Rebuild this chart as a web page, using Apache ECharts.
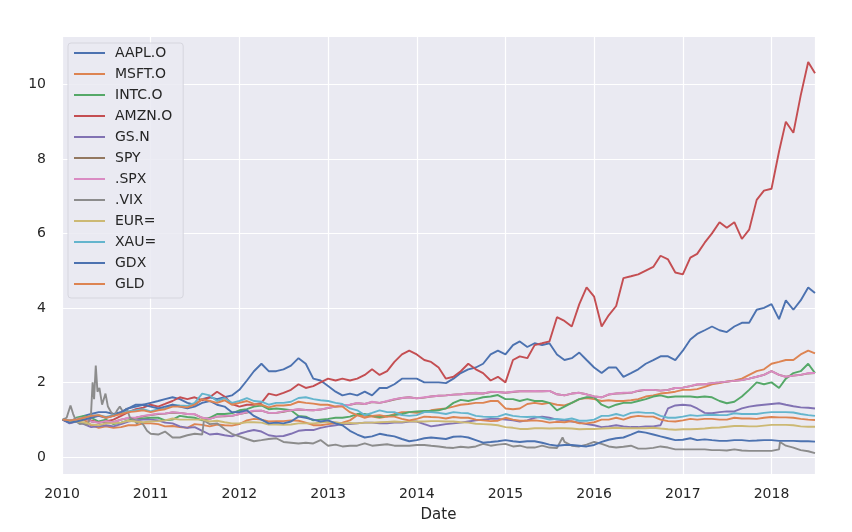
<!DOCTYPE html>
<html>
<head>
<meta charset="utf-8">
<script src="https://cdn.jsdelivr.net/npm/echarts@6/dist/echarts.min.js"></script>
<style>html,body{margin:0;padding:0;background:#fff}#c{width:852px;height:532px}</style>
</head>
<body>
<div id="c"></div>
<script>
const seriesNames = ['AAPL.O','MSFT.O','INTC.O','AMZN.O','GS.N','SPY','.SPX','.VIX','EUR=','XAU=','GDX','GLD'];
const colors = ['#4C72B0','#DD8452','#55A868','#C44E52','#8172B3','#937860','#DA8BC3','#8C8C8C','#CCB974','#64B5CD','#4C72B0','#DD8452'];
const yTicks = [0, 2, 4, 6, 8, 10];
const xTicks = [2010, 2011, 2012, 2013, 2014, 2015, 2016, 2017, 2018];

const dates = [
'2010-01-04','2010-02-01','2010-03-01','2010-04-01','2010-05-01','2010-06-01','2010-07-01','2010-08-01','2010-09-01','2010-10-01','2010-11-01','2010-12-01',
'2011-01-01','2011-02-01','2011-03-01','2011-04-01','2011-05-01','2011-06-01','2011-07-01','2011-08-01','2011-09-01','2011-10-01','2011-11-01','2011-12-01',
'2012-01-01','2012-02-01','2012-03-01','2012-04-01','2012-05-01','2012-06-01','2012-07-01','2012-08-01','2012-09-01','2012-10-01','2012-11-01','2012-12-01',
'2013-01-01','2013-02-01','2013-03-01','2013-04-01','2013-05-01','2013-06-01','2013-07-01','2013-08-01','2013-09-01','2013-10-01','2013-11-01','2013-12-01',
'2014-01-01','2014-02-01','2014-03-01','2014-04-01','2014-05-01','2014-06-01','2014-07-01','2014-08-01','2014-09-01','2014-10-01','2014-11-01','2014-12-01',
'2015-01-01','2015-02-01','2015-03-01','2015-04-01','2015-05-01','2015-06-01','2015-07-01','2015-08-01','2015-09-01','2015-10-01','2015-11-01','2015-12-01',
'2016-01-01','2016-02-01','2016-03-01','2016-04-01','2016-05-01','2016-06-01','2016-07-01','2016-08-01','2016-09-01','2016-10-01','2016-11-01','2016-12-01',
'2017-01-01','2017-02-01','2017-03-01','2017-04-01','2017-05-01','2017-06-01','2017-07-01','2017-08-01','2017-09-01','2017-10-01','2017-11-01','2017-12-01',
'2018-01-01','2018-02-01','2018-03-01','2018-04-01','2018-05-01','2018-06-01','2018-06-29'];

const aapl = [1.00,0.92,0.95,1.10,1.15,1.20,1.20,1.15,1.20,1.30,1.40,1.40,
1.45,1.50,1.55,1.60,1.55,1.45,1.40,1.55,1.60,1.55,1.60,1.65,
1.80,2.05,2.30,2.50,2.30,2.30,2.35,2.45,2.65,2.50,2.10,2.05,
1.90,1.75,1.65,1.70,1.65,1.75,1.65,1.85,1.85,1.95,2.10,2.10,
2.10,2.00,2.00,2.00,1.98,2.10,2.25,2.35,2.40,2.50,2.75,2.85,
2.75,3.00,3.10,2.95,3.05,3.00,3.05,2.75,2.60,2.65,2.80,2.60,
2.40,2.25,2.40,2.40,2.15,2.25,2.35,2.50,2.60,2.70,2.70,2.60,
2.85,3.15,3.30,3.40,3.50,3.40,3.35,3.50,3.60,3.60,3.95,4.00,
4.10,3.70,4.20,3.95,4.20,4.55,4.40];
const msft = [1.00,0.92,0.95,1.00,0.85,0.78,0.82,0.78,0.80,0.85,0.85,0.90,
0.90,0.88,0.82,0.83,0.80,0.78,0.88,0.86,0.82,0.87,0.85,0.84,
0.88,0.98,1.02,1.00,0.95,0.96,0.96,0.98,0.97,0.92,0.85,0.85,
0.88,0.90,0.92,0.98,1.12,1.10,1.08,1.05,1.08,1.15,1.20,1.20,
1.18,1.20,1.25,1.28,1.30,1.35,1.40,1.42,1.45,1.45,1.50,1.50,
1.30,1.28,1.30,1.42,1.45,1.42,1.45,1.40,1.38,1.45,1.55,1.58,
1.55,1.50,1.52,1.50,1.50,1.52,1.55,1.62,1.65,1.70,1.72,1.75,
1.80,1.80,1.82,1.88,1.95,1.98,2.02,2.05,2.10,2.20,2.30,2.35,
2.50,2.55,2.60,2.60,2.75,2.85,2.78];
const intc = [1.00,0.93,1.05,1.10,1.05,0.95,1.00,0.88,0.92,0.98,1.03,1.03,
1.05,1.05,0.98,1.00,1.10,1.07,1.05,0.98,1.05,1.15,1.15,1.17,
1.25,1.28,1.35,1.38,1.28,1.30,1.28,1.25,1.10,1.08,0.98,1.00,
1.02,1.05,1.05,1.08,1.15,1.15,1.10,1.07,1.10,1.12,1.15,1.20,
1.22,1.23,1.23,1.25,1.30,1.45,1.53,1.50,1.55,1.60,1.62,1.66,
1.55,1.55,1.50,1.55,1.50,1.50,1.45,1.25,1.35,1.45,1.55,1.60,
1.60,1.40,1.32,1.40,1.45,1.45,1.50,1.55,1.62,1.65,1.60,1.62,
1.62,1.62,1.60,1.62,1.60,1.50,1.44,1.48,1.62,1.80,2.00,1.95,
2.00,1.85,2.10,2.25,2.30,2.50,2.25];
const amzn = [1.00,0.93,0.98,1.05,0.98,0.92,0.95,1.00,1.10,1.20,1.28,1.32,
1.40,1.35,1.42,1.50,1.60,1.55,1.60,1.52,1.60,1.75,1.62,1.42,
1.35,1.40,1.40,1.45,1.70,1.65,1.72,1.80,1.95,1.85,1.90,2.00,
2.10,2.05,2.10,2.05,2.10,2.20,2.35,2.20,2.30,2.55,2.75,2.85,
2.75,2.60,2.55,2.40,2.10,2.15,2.30,2.50,2.35,2.25,2.05,2.15,
2.00,2.60,2.70,2.65,3.00,3.05,3.10,3.75,3.65,3.50,4.10,4.55,
4.30,3.50,3.80,4.05,4.80,4.85,4.90,5.00,5.10,5.40,5.30,4.95,
4.90,5.35,5.45,5.75,6.00,6.30,6.15,6.30,5.85,6.10,6.90,7.15,
7.20,8.20,9.00,8.70,9.70,10.60,10.30];
const gs = [1.00,0.90,0.95,0.88,0.80,0.82,0.85,0.82,0.88,0.95,0.98,1.00,
1.00,0.98,0.92,0.90,0.82,0.78,0.80,0.70,0.60,0.62,0.58,0.55,
0.62,0.68,0.72,0.68,0.58,0.55,0.56,0.62,0.70,0.72,0.72,0.78,
0.82,0.85,0.88,0.88,0.90,0.92,0.92,0.90,0.90,0.92,0.92,0.95,
0.95,0.88,0.82,0.85,0.88,0.90,0.92,0.95,0.98,1.00,1.02,1.02,
1.00,0.98,0.95,0.98,1.05,1.08,1.05,1.00,0.98,0.95,0.92,0.88,
0.85,0.80,0.82,0.85,0.82,0.80,0.80,0.82,0.82,0.85,1.30,1.38,
1.40,1.38,1.30,1.18,1.17,1.20,1.22,1.22,1.30,1.35,1.38,1.40,
1.42,1.44,1.40,1.36,1.33,1.32,1.30];
const spy = [1.00,0.97,1.01,1.04,0.95,0.92,0.95,0.93,1.00,1.04,1.05,1.09,
1.12,1.15,1.16,1.19,1.18,1.15,1.14,1.05,1.02,1.08,1.09,1.10,
1.15,1.19,1.23,1.24,1.18,1.18,1.21,1.25,1.27,1.26,1.25,1.27,
1.31,1.35,1.38,1.40,1.44,1.42,1.47,1.45,1.49,1.54,1.58,1.60,
1.57,1.59,1.62,1.64,1.65,1.67,1.68,1.70,1.71,1.70,1.74,1.74,
1.72,1.74,1.76,1.76,1.77,1.76,1.77,1.68,1.65,1.70,1.72,1.68,
1.62,1.60,1.67,1.70,1.71,1.72,1.77,1.80,1.80,1.78,1.80,1.85,
1.86,1.90,1.94,1.95,1.98,2.00,2.02,2.04,2.06,2.10,2.15,2.20,
2.30,2.20,2.15,2.18,2.20,2.24,2.25];
const spx = [1.00,0.97,1.02,1.05,0.95,0.92,0.96,0.93,1.00,1.05,1.05,1.10,
1.13,1.16,1.16,1.20,1.18,1.15,1.15,1.05,1.02,1.08,1.10,1.10,
1.15,1.20,1.24,1.24,1.18,1.18,1.22,1.25,1.28,1.26,1.25,1.27,
1.32,1.35,1.38,1.40,1.45,1.42,1.48,1.45,1.50,1.55,1.58,1.60,
1.57,1.60,1.62,1.64,1.65,1.67,1.68,1.70,1.72,1.70,1.75,1.74,
1.72,1.75,1.76,1.76,1.77,1.76,1.77,1.68,1.65,1.70,1.72,1.68,
1.62,1.60,1.68,1.70,1.72,1.72,1.78,1.80,1.80,1.78,1.80,1.85,
1.86,1.90,1.95,1.95,1.98,2.00,2.02,2.04,2.06,2.10,2.15,2.20,
2.30,2.20,2.15,2.18,2.20,2.25,2.25];
const eur = [1.00,0.96,0.95,0.93,0.87,0.85,0.90,0.90,0.92,0.97,0.95,0.93,
0.95,0.96,0.98,1.03,1.00,1.00,1.00,1.00,0.95,0.97,0.93,0.90,
0.90,0.93,0.93,0.92,0.87,0.87,0.86,0.87,0.90,0.90,0.90,0.92,
0.94,0.93,0.90,0.91,0.90,0.92,0.92,0.93,0.94,0.95,0.94,0.96,
0.95,0.95,0.96,0.96,0.95,0.95,0.93,0.92,0.89,0.88,0.87,0.85,
0.80,0.78,0.75,0.75,0.77,0.77,0.76,0.77,0.77,0.76,0.74,0.75,
0.75,0.76,0.77,0.78,0.77,0.77,0.77,0.77,0.78,0.76,0.74,0.73,
0.74,0.74,0.75,0.76,0.78,0.79,0.81,0.83,0.83,0.82,0.82,0.84,
0.86,0.86,0.86,0.85,0.82,0.81,0.81];
const xau = [1.00,0.98,1.00,1.05,1.10,1.12,1.07,1.12,1.18,1.22,1.25,1.28,
1.22,1.28,1.30,1.40,1.38,1.37,1.45,1.70,1.65,1.50,1.58,1.45,
1.50,1.58,1.50,1.48,1.40,1.45,1.45,1.48,1.58,1.60,1.55,1.52,
1.50,1.45,1.42,1.30,1.25,1.12,1.18,1.25,1.20,1.20,1.12,1.10,
1.12,1.20,1.20,1.18,1.15,1.20,1.18,1.17,1.10,1.08,1.07,1.08,
1.15,1.10,1.08,1.07,1.08,1.05,1.00,1.02,1.00,1.03,0.97,0.97,
1.00,1.10,1.10,1.15,1.10,1.18,1.20,1.18,1.18,1.10,1.05,1.05,
1.08,1.12,1.10,1.12,1.13,1.12,1.12,1.17,1.15,1.15,1.15,1.18,
1.20,1.20,1.20,1.19,1.15,1.12,1.10];
const gdx = [1.00,0.92,0.95,1.00,1.05,1.10,1.05,1.10,1.20,1.30,1.35,1.40,
1.35,1.30,1.35,1.40,1.35,1.30,1.35,1.45,1.50,1.40,1.35,1.20,
1.20,1.25,1.10,1.00,0.90,0.92,0.90,0.95,1.08,1.05,1.00,0.95,
0.98,0.90,0.85,0.70,0.60,0.52,0.55,0.62,0.58,0.55,0.48,0.42,
0.45,0.50,0.52,0.50,0.48,0.54,0.55,0.52,0.45,0.38,0.40,0.42,
0.45,0.42,0.40,0.42,0.42,0.38,0.33,0.30,0.32,0.32,0.30,0.28,
0.32,0.40,0.46,0.50,0.52,0.60,0.68,0.65,0.60,0.55,0.50,0.45,
0.46,0.50,0.45,0.47,0.45,0.43,0.43,0.45,0.45,0.43,0.44,0.45,
0.45,0.43,0.43,0.43,0.42,0.42,0.41];
const gld = [1.00,0.98,1.00,1.05,1.10,1.12,1.05,1.10,1.15,1.20,1.22,1.25,
1.20,1.25,1.28,1.35,1.35,1.33,1.40,1.55,1.50,1.45,1.52,1.40,
1.45,1.50,1.42,1.40,1.33,1.38,1.38,1.40,1.48,1.45,1.43,1.40,
1.40,1.35,1.35,1.20,1.12,1.05,1.10,1.12,1.08,1.08,1.02,0.98,
1.02,1.08,1.07,1.06,1.03,1.07,1.05,1.05,1.00,0.98,0.96,0.97,
1.05,1.00,0.97,0.97,0.98,0.96,0.92,0.94,0.93,0.96,0.90,0.90,
0.93,1.00,1.00,1.05,1.00,1.07,1.10,1.08,1.08,1.00,0.96,0.95,
0.98,1.02,1.00,1.02,1.02,1.00,1.00,1.05,1.03,1.03,1.02,1.05,
1.07,1.06,1.06,1.05,1.02,1.00,0.99];

const vixDates = ['2010-01-04','2010-01-20','2010-02-05','2010-02-16','2010-03-01','2010-03-15','2010-04-01','2010-04-15','2010-04-30','2010-05-07','2010-05-13','2010-05-20','2010-05-27','2010-06-04','2010-06-15','2010-06-29','2010-07-09','2010-07-22','2010-08-04','2010-08-16','2010-08-27','2010-09-10','2010-09-24','2010-10-08','2010-10-22','2010-11-05','2010-11-19','2010-12-03','2010-12-17',
'2011-01-01','2011-02-01','2011-03-01','2011-04-01','2011-05-01','2011-06-01','2011-07-01','2011-08-01','2011-08-08','2011-09-01','2011-10-01','2011-11-01','2011-12-01',
'2012-01-01','2012-02-01','2012-03-01','2012-04-01','2012-05-01','2012-06-01','2012-07-01','2012-08-01','2012-09-01','2012-10-01','2012-11-01','2012-12-01',
'2013-01-01','2013-02-01','2013-03-01','2013-04-01','2013-05-01','2013-06-01','2013-07-01','2013-08-01','2013-09-01','2013-10-01','2013-11-01','2013-12-01',
'2014-01-01','2014-02-01','2014-03-01','2014-04-01','2014-05-01','2014-06-01','2014-07-01','2014-08-01','2014-09-01','2014-10-01','2014-11-01','2014-12-01',
'2015-01-01','2015-02-01','2015-03-01','2015-04-01','2015-05-01','2015-06-01','2015-07-01','2015-08-01','2015-08-24','2015-09-01','2015-10-01','2015-11-01','2015-12-01',
'2016-01-01','2016-02-01','2016-03-01','2016-04-01','2016-05-01','2016-06-01','2016-07-01','2016-08-01','2016-09-01','2016-10-01','2016-11-01','2016-12-01',
'2017-01-01','2017-02-01','2017-03-01','2017-04-01','2017-05-01','2017-06-01','2017-07-01','2017-08-01','2017-09-01','2017-10-01','2017-11-01','2017-12-01',
'2018-01-01','2018-02-01','2018-02-05','2018-03-01','2018-04-01','2018-05-01','2018-06-01','2018-06-29'];
const vix = [1.00,1.05,1.38,1.15,0.95,0.88,0.90,0.85,1.10,2.00,1.55,2.45,1.75,1.85,1.40,1.70,1.35,1.20,1.10,1.25,1.35,1.20,1.30,1.05,1.00,0.90,0.95,0.85,0.70,
0.62,0.60,0.68,0.52,0.52,0.58,0.62,0.60,0.98,0.88,0.90,0.75,0.62,
0.55,0.48,0.42,0.45,0.48,0.50,0.40,0.38,0.36,0.38,0.36,0.45,
0.30,0.33,0.28,0.30,0.30,0.36,0.30,0.32,0.34,0.30,0.30,0.30,
0.32,0.32,0.30,0.28,0.25,0.24,0.27,0.25,0.28,0.35,0.30,0.33,
0.35,0.28,0.30,0.25,0.25,0.30,0.25,0.24,0.52,0.40,0.30,0.28,0.33,
0.40,0.35,0.28,0.25,0.27,0.30,0.22,0.22,0.24,0.28,0.25,0.20,
0.20,0.20,0.20,0.20,0.18,0.18,0.17,0.20,0.17,0.16,0.16,0.16,
0.16,0.20,0.40,0.30,0.25,0.18,0.15,0.10];

function toYear(s) {
  const d = new Date(s + 'T00:00:00Z');
  const y = d.getUTCFullYear();
  const a = Date.UTC(y, 0, 1), b = Date.UTC(y + 1, 0, 1);
  return y + (d.getTime() - a) / (b - a);
}
function pairs(ds, vs) { return ds.map((d, i) => [toYear(d), vs[i]]); }

const values = [aapl, msft, intc, amzn, gs, spy, spx, null, eur, xau, gdx, gld];
const series = seriesNames.map((name, i) => ({
  name: name,
  type: 'line',
  data: i === 7 ? pairs(vixDates, vix) : pairs(dates, values[i]),
  symbol: 'none',
  smooth: false,
  lineStyle: { width: 1.9, color: colors[i] },
  itemStyle: { color: colors[i] },
  emphasis: { disabled: true },
  animation: false
}));

const chart = echarts.init(document.getElementById('c'), null, { renderer: 'canvas' });
chart.setOption({
  animation: false,
  backgroundColor: '#ffffff',
  color: colors,
  grid: { left: 62, right: 37, top: 36, bottom: 58, show: true, backgroundColor: '#EAEAF2', borderWidth: 0 },
  legend: {
    data: seriesNames,
    orient: 'vertical',
    left: 68, top: 43,
    icon: 'rect',
    itemWidth: 31, itemHeight: 2, itemGap: 7,
    padding: [3, 11, 7, 6],
    backgroundColor: 'rgba(234,234,242,0.85)',
    borderColor: '#d6d6de', borderWidth: 1, borderRadius: 3,
    textStyle: { fontFamily: 'DejaVu Sans', fontSize: 14, color: '#262626', lineHeight: 14, padding: [0, 0, 0, 5] },
    selectedMode: false
  },
  xAxis: {
    type: 'value',
    min: xTicks[0], max: toYear('2018-06-29'), interval: 1,
    name: 'Date', nameLocation: 'middle', nameGap: 34,
    nameTextStyle: { fontFamily: 'DejaVu Sans', fontSize: 15, color: '#262626' },
    axisLine: { show: false }, axisTick: { show: false },
    axisLabel: { fontFamily: 'DejaVu Sans', fontSize: 14, color: '#262626', margin: 13,
      formatter: v => xTicks.indexOf(Math.round(v * 1000) / 1000) >= 0 ? String(v) : '' },
    splitLine: { show: true, lineStyle: { color: '#ffffff', width: 1.2 } }
  },
  yAxis: {
    type: 'value',
    min: -0.46, max: 11.3,
    splitNumber: 5,
    axisLine: { show: false }, axisTick: { show: false },
    axisLabel: { fontFamily: 'DejaVu Sans', fontSize: 14, color: '#262626', margin: 16,
      formatter: v => yTicks.indexOf(Math.round(v * 1000) / 1000) >= 0 ? String(v) : '' },
    splitLine: { show: true, lineStyle: { color: '#ffffff', width: 1.2 } }
  },
  series: series
});
</script>
</body>
</html>
